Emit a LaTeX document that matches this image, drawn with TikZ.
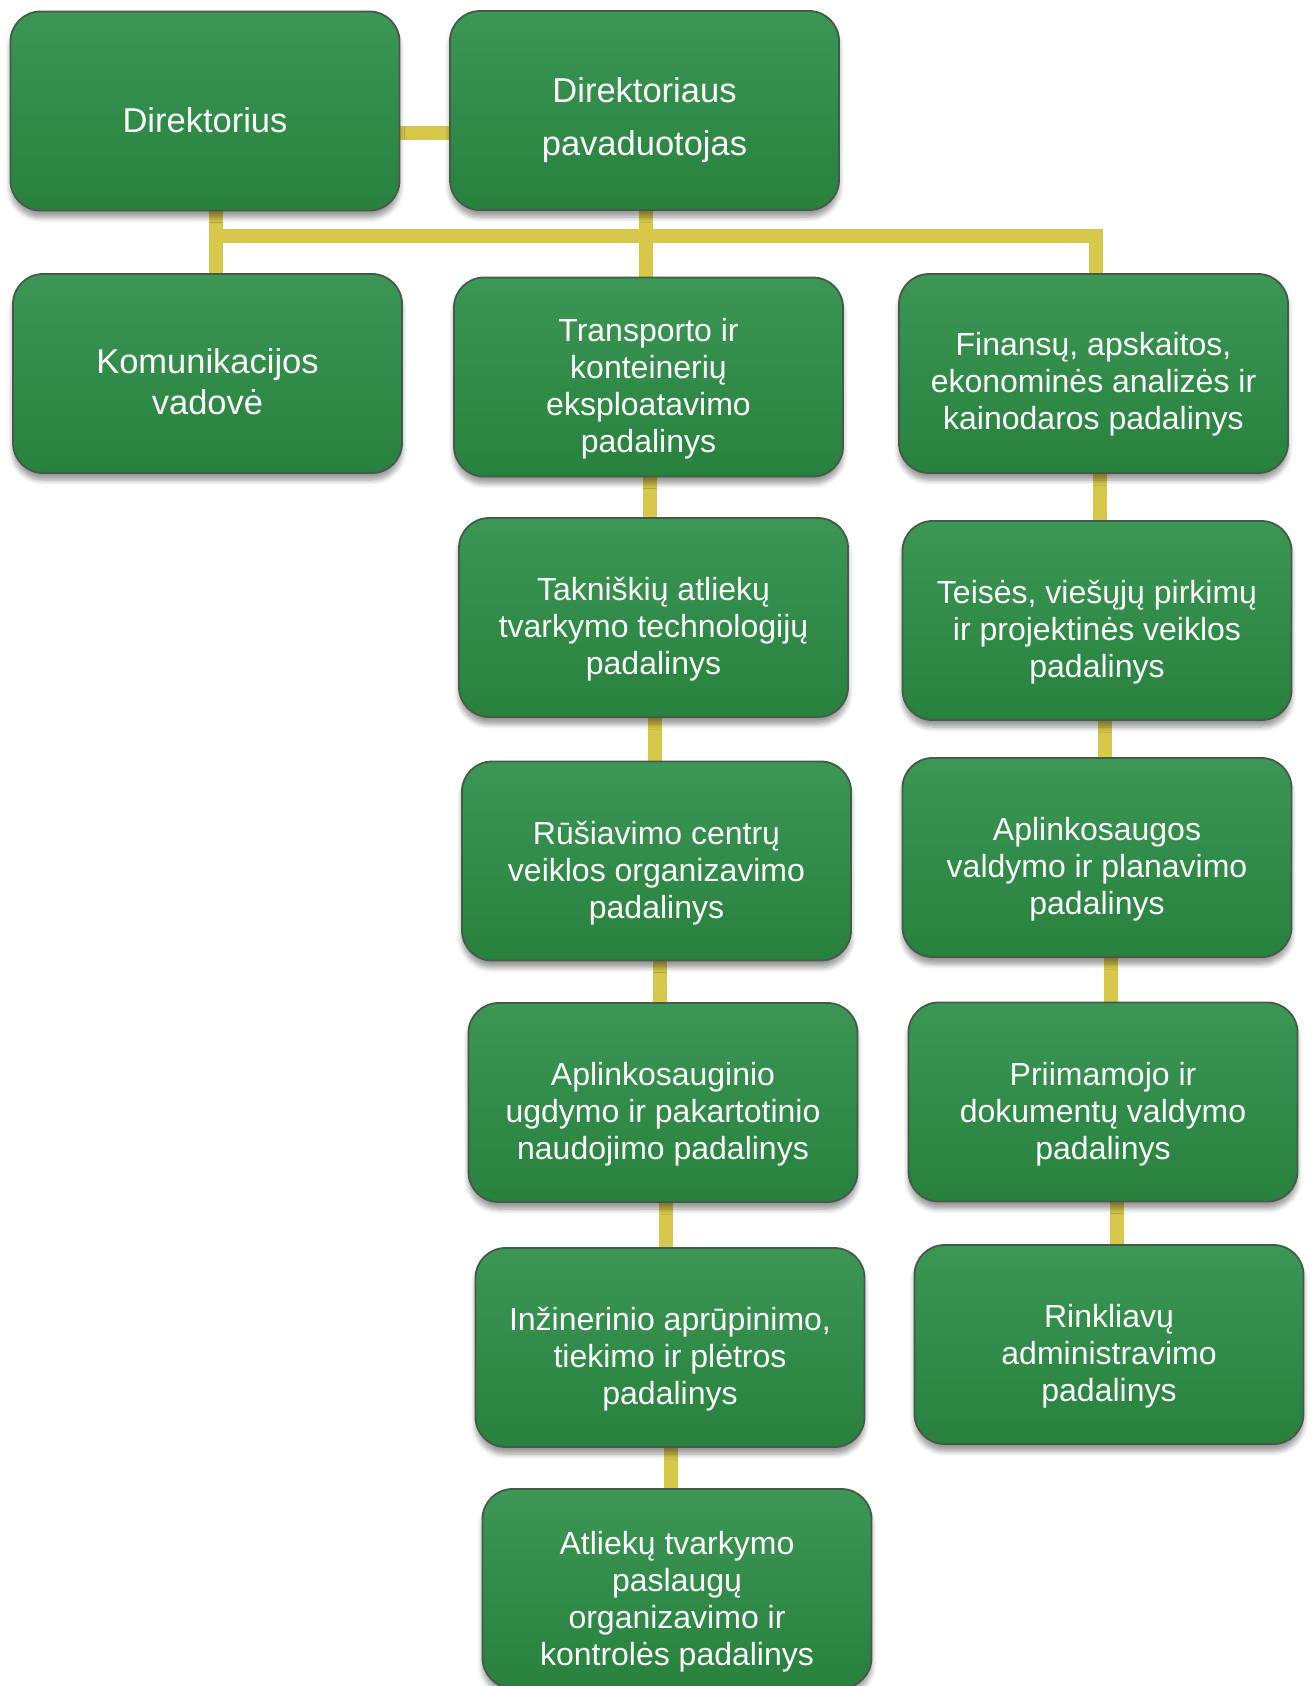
\documentclass[tikz,border=0pt]{standalone}
\usepackage{fontspec}
\setmainfont{Liberation Sans}
\usetikzlibrary{backgrounds,shadows.blur}
\definecolor{boxtop}{RGB}{60,150,84}
\definecolor{boxbot}{RGB}{40,130,62}
\definecolor{boxline}{RGB}{70,90,75}
\definecolor{conncol}{RGB}{215,200,75}
\tikzset{
  orgbox/.style={draw=boxline, line width=1.8pt, rounded corners=30pt,
    top color=boxtop, bottom color=boxbot,
    minimum width=389pt, minimum height=199pt, inner sep=0pt,
    blur shadow={shadow blur steps=6, shadow xshift=0pt, shadow yshift=-7pt, shadow opacity=40, shadow blur radius=5pt}},
  orgtxt/.style={text=white, align=center, inner sep=0pt,
    font=\fontsize{32}{37}\selectfont},
  conn/.style={draw=conncol, line width=14pt}
}
\begin{document}
\begin{tikzpicture}[x=1pt,y=-1pt]
\clip (0,0) rectangle (1313,1686);
% boxes
\node[orgbox] (dir) at (205,111) {};
\node[orgbox] (dep) at (644.5,110.5) {};
\node[orgbox] (kom) at (207.5,373.5) {};
\node[orgbox] (tra) at (648.5,377) {};
\node[orgbox] (fin) at (1093.5,373.5) {};
\node[orgbox] (tak) at (653.5,617.5) {};
\node[orgbox] (tei) at (1097,620.5) {};
\node[orgbox] (rus) at (656.5,861) {};
\node[orgbox] (apl) at (1097,857.5) {};
\node[orgbox] (apg) at (663,1102.5) {};
\node[orgbox] (pri) at (1103,1102) {};
\node[orgbox] (inz) at (670,1347.5) {};
\node[orgbox] (rin) at (1109,1344.5) {};
\node[orgbox] (atl) at (677,1588.5) {};
% texts
\node[orgtxt, font=\fontsize{34.5}{40}\selectfont] (dir-t) at ([yshift=-9pt]dir.center) {Direktorius};
\node[orgtxt, font=\fontsize{34.5}{53}\selectfont] (dep-t) at ([yshift=-10pt]dep.center) {Direktoriaus\\pavaduotojas};
\node[orgtxt, font=\fontsize{34.5}{41}\selectfont] (kom-t) at ([yshift=-8pt]kom.center) {Komunikacijos\\vadovė};
\node[orgtxt] (tra-t) at ([yshift=-12pt]tra.center) {Transporto ir\\konteinerių\\eksploatavimo\\padalinys};
\node[orgtxt] (fin-t) at ([yshift=-11pt]fin.center) {Finansų, apskaitos,\\ekonominės analizės ir\\kainodaros padalinys};
\node[orgtxt] (tak-t) at ([yshift=-12pt]tak.center) {Takniškių atliekų\\tvarkymo technologijų\\padalinys};
\node[orgtxt] (tei-t) at ([yshift=-12pt]tei.center) {Teisės, viešųjų pirkimų\\ir projektinės veiklos\\padalinys};
\node[orgtxt] (rus-t) at ([yshift=-12pt]rus.center) {Rūšiavimo centrų\\veiklos organizavimo\\padalinys};
\node[orgtxt] (apl-t) at ([yshift=-12pt]apl.center) {Aplinkosaugos\\valdymo ir planavimo\\padalinys};
\node[orgtxt] (apg-t) at ([yshift=-12pt]apg.center) {Aplinkosauginio\\ugdymo ir pakartotinio\\naudojimo padalinys};
\node[orgtxt] (pri-t) at ([yshift=-12pt]pri.center) {Priimamojo ir\\dokumentų valdymo\\padalinys};
\node[orgtxt] (inz-t) at ([yshift=-12pt]inz.center) {Inžinerinio aprūpinimo,\\tiekimo ir plėtros\\padalinys};
\node[orgtxt] (rin-t) at ([yshift=-12pt]rin.center) {Rinkliavų\\administravimo\\padalinys};
\node[orgtxt] (atl-t) at ([yshift=-13pt]atl.center) {Atliekų tvarkymo\\paslaugų\\organizavimo ir\\kontrolės padalinys};
% connectors
\begin{scope}[on background layer]
\coordinate (busL) at (216,236);
\coordinate (busM) at (646,236);
\coordinate (busR) at (1096,236);
\coordinate (m1) at (650,0);
\coordinate (m2) at (655,0);
\coordinate (m3) at (660,0);
\coordinate (m4) at (666,0);
\coordinate (m5) at (671,0);
\coordinate (r1) at (1100,0);
\coordinate (r2) at (1105,0);
\coordinate (r3) at (1111,0);
\coordinate (r4) at (1117,0);
\draw[conn] ([yshift=-22pt]dir.center) -- ([yshift=-22pt]dir.center -| dep.center);
\draw[conn] (busL |- dir.south) -- (busL |- kom.north);
\draw[conn] (busL) -- (busR) -- (busR |- fin.north);
\draw[conn] (busM |- dep.south) -- (busM |- tra.north);
\draw[conn] (tra.south -| m1) -- (tak.north -| m1);
\draw[conn] (tak.south -| m2) -- (rus.north -| m2);
\draw[conn] (rus.south -| m3) -- (apg.north -| m3);
\draw[conn] (apg.south -| m4) -- (inz.north -| m4);
\draw[conn] (inz.south -| m5) -- (atl.north -| m5);
\draw[conn] (fin.south -| r1) -- (tei.north -| r1);
\draw[conn] (tei.south -| r2) -- (apl.north -| r2);
\draw[conn] (apl.south -| r3) -- (pri.north -| r3);
\draw[conn] (pri.south -| r4) -- (rin.north -| r4);
\end{scope}
\end{tikzpicture}
\end{document}
